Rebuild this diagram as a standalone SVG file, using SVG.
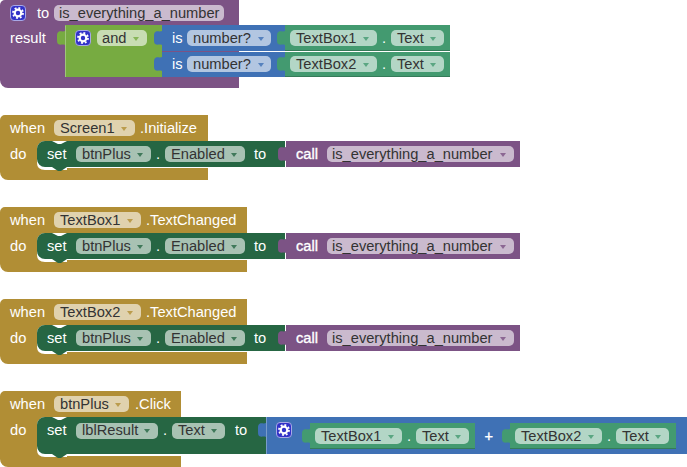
<svg xmlns="http://www.w3.org/2000/svg" xmlns:xlink="http://www.w3.org/1999/xlink" width="687" height="467" viewBox="0 0 687 467">
<style>
text{font-family:"Liberation Sans",Arial,sans-serif;font-size:14.67px}
.w{fill:#fff}
.b{stroke:#fff;stroke-width:.35}
.d{fill:#333}
.fld{fill:#fff;fill-opacity:.6}
.pur{fill:#7c5385}
.grn{fill:#77ab41}
.blu{fill:#3f71b5}
.tel{fill:#439a70}
.brn{fill:#b18e35}
.dk{fill:#266643}
.tr{fill-opacity:.8}
.edge{fill:none;stroke:#000;stroke-opacity:.2;stroke-width:1}
.hi{fill:none;stroke:#fff;stroke-opacity:.3;stroke-width:1}
</style>
<defs>
<path id="tab" d="M0 6C-2 7-4 6-6 6.500C-8 7.500-8 9-8 13C-8 17-8 18.500-6 19.500C-4 20-2 19 0 20z"/>
<path id="tri" d="M-3 1h6l-3 4z"/>
<g id="gear">
<rect x=".5" y=".5" width="15" height="15" rx="3.500" fill="#3232c8" stroke="#a8a8e6"/>
<circle cx="8" cy="8" r="3.300" fill="none" stroke="#fff" stroke-width="2.200"/>
<circle cx="8" cy="8" r="5" fill="none" stroke="#fff" stroke-width="1.800" stroke-dasharray="1.900 2"/>
</g>
</defs>

<g id="connectors"></g>

<g id="proc-def">
<path class="pur" d="M0 5a5 5 0 0 1 5-5H239V88H8a8 8 0 0 1-8-8z"/>
<use href="#gear" x="10" y="5"/>
<text class="w" x="37" y="18">to</text>
<rect class="fld" x="54" y="5" width="170" height="16" rx="5"/>
<text class="d" x="59" y="18">is_everything_a_number</text>
<text class="w" x="10" y="43">result</text>
</g>

<g id="and-block">
<path class="grn" d="M65 25H162V77H65z"/>
<use href="#tab" class="grn" x="65" y="25"/>
<path class="hi" d="M65.500 77V25.500"/>
<use href="#gear" x="75" y="30"/>
<rect class="fld" x="97" y="30" width="50" height="16" rx="5"/>
<text class="d" x="102" y="43">and</text>
<use href="#tri" class="grn tr" x="136" y="36"/>
</g>

<g id="is-number-1">
<path class="blu" d="M162 25H285V51H162z"/>
<use href="#tab" class="blu" x="162" y="25"/>
<text class="w" x="172" y="43">is</text>
<rect class="fld" x="187" y="30" width="84" height="16" rx="5"/>
<text class="d" x="193" y="43">number?</text>
<use href="#tri" class="blu tr" x="261" y="36"/>
</g>
<g id="is-number-2">
<path class="blu" d="M162 52H285V77H162z"/>
<use href="#tab" class="blu" x="162" y="51"/>
<text class="w" x="172" y="69">is</text>
<rect class="fld" x="187" y="56" width="84" height="16" rx="5"/>
<text class="d" x="193" y="69">number?</text>
<use href="#tri" class="blu tr" x="261" y="62"/>
</g>

<g id="textbox1-text-a">
<path class="tel" d="M285 25H450V51H285z"/>
<use href="#tab" class="tel" x="285" y="25"/>
<path class="edge" d="M285 50.500H450"/>
<rect class="fld" x="290" y="30" width="87" height="16" rx="5"/>
<text class="d" x="296" y="43">TextBox1</text>
<use href="#tri" class="tel tr" x="366" y="36"/>
<text class="w" x="382" y="43">.</text>
<rect class="fld" x="391" y="30" width="53" height="16" rx="5"/>
<text class="d" x="397" y="43">Text</text>
<use href="#tri" class="tel tr" x="433" y="36"/>
</g>
<g id="textbox2-text-a">
<path class="tel" d="M285 52H450V77H285z"/>
<use href="#tab" class="tel" x="285" y="51"/>
<path class="edge" d="M285 76.500H450"/>
<rect class="fld" x="290" y="56" width="87" height="16" rx="5"/>
<text class="d" x="296" y="69">TextBox2</text>
<use href="#tri" class="tel tr" x="366" y="62"/>
<text class="w" x="382" y="69">.</text>
<rect class="fld" x="391" y="56" width="53" height="16" rx="5"/>
<text class="d" x="397" y="69">Text</text>
<use href="#tri" class="tel tr" x="433" y="62"/>
</g>

<g id="when-screen1">
<path class="brn" d="M5 115H208V141H45a8 8 0 0 0-8 8V163Q37 170 45 170H67V168H208V180H8a8 8 0 0 1-8-8V120a5 5 0 0 1 5-5z"/>
<text class="w" x="10" y="133">when</text>
<rect class="fld" x="54" y="120" width="81" height="16" rx="5"/>
<text class="d" x="60" y="133">Screen1</text>
<use href="#tri" class="brn tr" x="124" y="126"/>
<text class="w" x="140" y="133">.Initialize</text>
<text class="w" x="10" y="159">do</text>
</g>
<g id="set-enabled-1">
<path class="dk" d="M45 141H52l6 3h3l6-3H285V167H67l-6 4h-3l-6-4H45a8 8 0 0 1-8-8V149a8 8 0 0 1 8-8z"/>
<text class="w" x="47" y="159">set</text>
<rect class="fld" x="76" y="146" width="75" height="16" rx="5"/>
<text class="d" x="82" y="159">btnPlus</text>
<use href="#tri" class="dk tr" x="140" y="152"/>
<text class="w" x="156" y="159">.</text>
<rect class="fld" x="165" y="146" width="80" height="16" rx="5"/>
<text class="d" x="171" y="159">Enabled</text>
<use href="#tri" class="dk tr" x="234" y="152"/>
<text class="w" x="254" y="159">to</text>
</g>
<g id="call-1">
<path class="pur" d="M286 141H520V167H286z"/>
<use href="#tab" class="pur" x="286" y="141"/>
<text class="w b" x="296" y="159">call</text>
<rect class="fld" x="327" y="146" width="187" height="16" rx="5"/>
<text class="d" x="332" y="159">is_everything_a_number</text>
<use href="#tri" class="pur tr" x="503" y="152"/>
</g>

<g id="when-textbox1">
<path class="brn" d="M5 207H247V233H45a8 8 0 0 0-8 8V255Q37 262 45 262H67V260H247V272H8a8 8 0 0 1-8-8V212a5 5 0 0 1 5-5z"/>
<text class="w" x="10" y="225">when</text>
<rect class="fld" x="54" y="212" width="87" height="16" rx="5"/>
<text class="d" x="60" y="225">TextBox1</text>
<use href="#tri" class="brn tr" x="130" y="218"/>
<text class="w" x="146" y="225">.TextChanged</text>
<text class="w" x="10" y="251">do</text>
</g>
<g id="set-enabled-2">
<path class="dk" d="M45 233H52l6 3h3l6-3H285V259H67l-6 4h-3l-6-4H45a8 8 0 0 1-8-8V241a8 8 0 0 1 8-8z"/>
<text class="w" x="47" y="251">set</text>
<rect class="fld" x="76" y="238" width="75" height="16" rx="5"/>
<text class="d" x="82" y="251">btnPlus</text>
<use href="#tri" class="dk tr" x="140" y="244"/>
<text class="w" x="156" y="251">.</text>
<rect class="fld" x="165" y="238" width="80" height="16" rx="5"/>
<text class="d" x="171" y="251">Enabled</text>
<use href="#tri" class="dk tr" x="234" y="244"/>
<text class="w" x="254" y="251">to</text>
</g>
<g id="call-2">
<path class="pur" d="M286 233H520V259H286z"/>
<use href="#tab" class="pur" x="286" y="233"/>
<text class="w b" x="296" y="251">call</text>
<rect class="fld" x="327" y="238" width="187" height="16" rx="5"/>
<text class="d" x="332" y="251">is_everything_a_number</text>
<use href="#tri" class="pur tr" x="503" y="244"/>
</g>

<g id="when-textbox2">
<path class="brn" d="M5 299H247V325H45a8 8 0 0 0-8 8V347Q37 354 45 354H67V352H247V364H8a8 8 0 0 1-8-8V304a5 5 0 0 1 5-5z"/>
<text class="w" x="10" y="317">when</text>
<rect class="fld" x="54" y="304" width="87" height="16" rx="5"/>
<text class="d" x="60" y="317">TextBox2</text>
<use href="#tri" class="brn tr" x="130" y="310"/>
<text class="w" x="146" y="317">.TextChanged</text>
<text class="w" x="10" y="343">do</text>
</g>
<g id="set-enabled-3">
<path class="dk" d="M45 325H52l6 3h3l6-3H285V351H67l-6 4h-3l-6-4H45a8 8 0 0 1-8-8V333a8 8 0 0 1 8-8z"/>
<text class="w" x="47" y="343">set</text>
<rect class="fld" x="76" y="330" width="75" height="16" rx="5"/>
<text class="d" x="82" y="343">btnPlus</text>
<use href="#tri" class="dk tr" x="140" y="336"/>
<text class="w" x="156" y="343">.</text>
<rect class="fld" x="165" y="330" width="80" height="16" rx="5"/>
<text class="d" x="171" y="343">Enabled</text>
<use href="#tri" class="dk tr" x="234" y="336"/>
<text class="w" x="254" y="343">to</text>
</g>
<g id="call-3">
<path class="pur" d="M286 325H520V351H286z"/>
<use href="#tab" class="pur" x="286" y="325"/>
<text class="w b" x="296" y="343">call</text>
<rect class="fld" x="327" y="330" width="187" height="16" rx="5"/>
<text class="d" x="332" y="343">is_everything_a_number</text>
<use href="#tri" class="pur tr" x="503" y="336"/>
</g>

<g id="when-btnplus">
<path class="brn" d="M5 391H181V417H45a8 8 0 0 0-8 8V450Q37 457 45 457H67V456H181V467H8a8 8 0 0 1-8-8V396a5 5 0 0 1 5-5z"/>
<text class="w" x="10" y="409">when</text>
<rect class="fld" x="54" y="396" width="75" height="16" rx="5"/>
<text class="d" x="60" y="409">btnPlus</text>
<use href="#tri" class="brn tr" x="118" y="402"/>
<text class="w" x="135" y="409">.Click</text>
<text class="w" x="10" y="435">do</text>
</g>
<g id="set-text">
<path class="dk" d="M45 417H52l6 3h3l6-3H266V454H67l-6 4h-3l-6-4H45a8 8 0 0 1-8-8V425a8 8 0 0 1 8-8z"/>
<text class="w" x="47" y="435">set</text>
<rect class="fld" x="76" y="423" width="82" height="16" rx="5"/>
<text class="d" x="82" y="435">lblResult</text>
<use href="#tri" class="dk tr" x="147" y="428"/>
<text class="w" x="163" y="435">.</text>
<rect class="fld" x="172" y="423" width="53" height="16" rx="5"/>
<text class="d" x="178" y="435">Text</text>
<use href="#tri" class="dk tr" x="214" y="428"/>
<text class="w" x="235" y="435">to</text>
</g>
<g id="join">
<path class="blu" d="M266 417H687V454H266z"/>
<use href="#tab" class="blu" x="266" y="417"/>
<path class="hi" d="M266.500 454V417"/>
<use href="#gear" x="276" y="422"/>
<text class="w b" x="484.500" y="441">+</text>
</g>
<g id="textbox1-text-b">
<path class="tel" d="M310 423H475V449H310z"/>
<use href="#tab" class="tel" x="310" y="423"/>
<path class="edge" d="M310 448.500H475"/>
<rect class="fld" x="315" y="428" width="87" height="16" rx="5"/>
<text class="d" x="321" y="441">TextBox1</text>
<use href="#tri" class="tel tr" x="391" y="434"/>
<text class="w" x="407" y="441">.</text>
<rect class="fld" x="416" y="428" width="53" height="16" rx="5"/>
<text class="d" x="422" y="441">Text</text>
<use href="#tri" class="tel tr" x="458" y="434"/>
</g>
<g id="textbox2-text-b">
<path class="tel" d="M510 423H676V449H510z"/>
<use href="#tab" class="tel" x="510" y="423"/>
<path class="edge" d="M510 448.500H676"/>
<rect class="fld" x="515" y="428" width="87" height="16" rx="5"/>
<text class="d" x="521" y="441">TextBox2</text>
<use href="#tri" class="tel tr" x="591" y="434"/>
<text class="w" x="607" y="441">.</text>
<rect class="fld" x="616" y="428" width="53" height="16" rx="5"/>
<text class="d" x="622" y="441">Text</text>
<use href="#tri" class="tel tr" x="658" y="434"/>
</g>
</svg>
